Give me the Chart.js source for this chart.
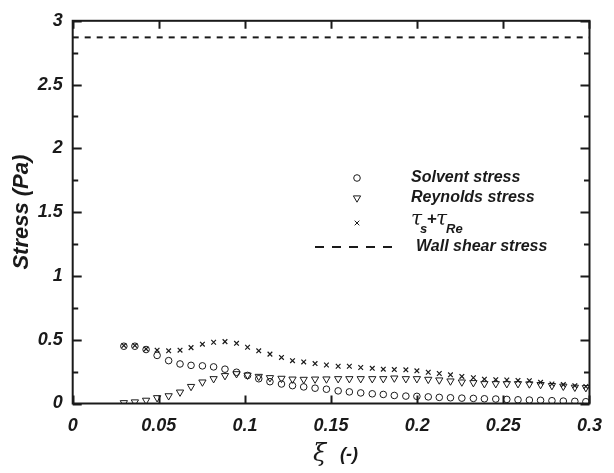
<!DOCTYPE html>
<html>
<head>
<meta charset="utf-8">
<script src="https://cdn.jsdelivr.net/npm/chart.js@4/dist/chart.umd.min.js"></script>
<style>
  html, body { margin: 0; padding: 0; background: #fff; }
  #wrap { width: 614px; height: 473px; }
</style>
</head>
<body>
<div id="wrap"><canvas id="c" width="614" height="473"></canvas></div>
<script>
// ---- data ----
const xi = [0.0297, 0.0361, 0.0426, 0.0490, 0.0557, 0.0623, 0.0687, 0.0753, 0.0818, 0.0884,
            0.0951, 0.1015, 0.1080, 0.1145, 0.1212, 0.1276, 0.1341, 0.1407, 0.1473, 0.1541,
            0.1606, 0.1672, 0.1739, 0.1803, 0.1867, 0.1934, 0.1998, 0.2064, 0.2128, 0.2193,
            0.2259, 0.2326, 0.2390, 0.2456, 0.2520, 0.2585, 0.2651, 0.2716, 0.2782, 0.2848,
            0.2915, 0.2979];
const solventStress = [0.449, 0.449, 0.423, 0.377, 0.336, 0.310, 0.299, 0.295, 0.287, 0.269,
                       0.245, 0.220, 0.194, 0.171, 0.153, 0.140, 0.130, 0.120, 0.112, 0.099,
                       0.091, 0.083, 0.076, 0.071, 0.063, 0.058, 0.056, 0.052, 0.048, 0.045,
                       0.042, 0.040, 0.037, 0.035, 0.032, 0.029, 0.027, 0.025, 0.022, 0.019,
                       0.017, 0.014];
const reynoldsStress = [0.006, 0.012, 0.025, 0.045, 0.060, 0.089, 0.133, 0.168, 0.194, 0.218,
                        0.233, 0.222, 0.212, 0.202, 0.197, 0.191, 0.189, 0.191, 0.192, 0.194,
                        0.194, 0.194, 0.194, 0.194, 0.199, 0.194, 0.194, 0.189, 0.184, 0.176,
                        0.168, 0.163, 0.155, 0.155, 0.155, 0.155, 0.153, 0.148, 0.140, 0.135,
                        0.127, 0.124];
const totalStress = [0.454, 0.454, 0.428, 0.418, 0.413, 0.418, 0.438, 0.465, 0.480, 0.485,
                     0.472, 0.441, 0.413, 0.387, 0.361, 0.336, 0.326, 0.313, 0.302, 0.292,
                     0.292, 0.282, 0.276, 0.269, 0.266, 0.264, 0.256, 0.245, 0.235, 0.225,
                     0.212, 0.202, 0.191, 0.187, 0.184, 0.181, 0.179, 0.166, 0.153, 0.148,
                     0.140, 0.133];
const wallShearStress = 2.87;
const wallRange = [0, 0.3];
const xTicks = [0, 0.05, 0.1, 0.15, 0.2, 0.25, 0.3];
const yTicks = [0, 0.5, 1, 1.5, 2, 2.5, 3];
const yMinorTicks = [0.25, 0.75, 1.25, 1.75, 2.25, 2.75];
const labels = ['Solvent stress', 'Reynolds stress', 'Wall shear stress'];

const pts = ys => xi.map((x, i) => ({ x: x, y: ys[i] }));
const INK = '#1a1a1a';
const FONT = '"Liberation Sans", Arial, sans-serif';
const GREEK = 'italic 20px "DejaVu Serif", "Liberation Serif", serif';

function mark(ctx, style, rotation, radius, x, y) {
  ctx.save();
  ctx.strokeStyle = INK;
  ctx.fillStyle = 'rgba(0,0,0,0)';
  ctx.lineWidth = 1;
  if (Chart.helpers && Chart.helpers.drawPoint) {
    Chart.helpers.drawPoint(ctx, { pointStyle: style, rotation: rotation, radius: radius, borderWidth: 1 }, x, y);
  }
  ctx.restore();
}

const framePlugin = {
  id: 'frameTicks',
  afterDraw(chart) {
    const ctx = chart.ctx;
    const a = chart.chartArea;
    const xs = chart.scales.x, ys = chart.scales.y;
    ctx.save();
    ctx.strokeStyle = INK;
    ctx.lineWidth = 2;
    ctx.strokeRect(a.left, a.top, a.right - a.left, a.bottom - a.top);
    ctx.beginPath();
    yTicks.forEach(v => {
      const p = Math.round(ys.getPixelForValue(v)) + 0.5;
      ctx.moveTo(a.left, p); ctx.lineTo(a.left + 9, p);
      ctx.moveTo(a.right, p); ctx.lineTo(a.right - 9, p);
    });
    yMinorTicks.forEach(v => {
      const p = Math.round(ys.getPixelForValue(v)) + 0.5;
      ctx.moveTo(a.left, p); ctx.lineTo(a.left + 5.5, p);
      ctx.moveTo(a.right, p); ctx.lineTo(a.right - 5.5, p);
    });
    xTicks.forEach(v => {
      const p = Math.round(xs.getPixelForValue(v)) + 0.5;
      ctx.moveTo(p, a.bottom); ctx.lineTo(p, a.bottom - 8);
      ctx.moveTo(p, a.top); ctx.lineTo(p, a.top + 8);
    });
    ctx.stroke();

    // x axis title: xi (-)
    ctx.fillStyle = INK;
    ctx.textBaseline = 'middle';
    ctx.textAlign = 'left';
    ctx.font = 'italic 24px "DejaVu Serif", "Liberation Serif", serif';
    ctx.fillText('\u03BE', 313, 455);
    ctx.font = 'bold italic 18px ' + FONT;
    ctx.fillText('(-)', 340, 455);

    // legend
    const mx = 357, tx = 411;
    const rows = [178, 198, 223, 247];
    mark(ctx, 'circle', 0, 3.3, mx, rows[0]);
    mark(ctx, 'triangle', 180, 4.2, mx, rows[1]);
    mark(ctx, 'crossRot', 0, 3.3, mx, rows[2]);
    ctx.font = 'bold italic 16px ' + FONT;
    ctx.fillStyle = INK;
    ctx.fillText(labels[0], tx, rows[0]);
    ctx.fillText(labels[1], tx, rows[1]);
    // tau_s + tau_Re
    ctx.font = GREEK;
    ctx.fillText('\u03C4', tx, rows[2] - 3);
    ctx.font = 'bold italic 13px ' + FONT;
    ctx.fillText('s', tx + 9, rows[2] + 6);
    ctx.font = 'bold 17px ' + FONT;
    ctx.fillText('+', tx + 16, rows[2] - 4);
    ctx.font = GREEK;
    ctx.fillText('\u03C4', tx + 25, rows[2] - 3);
    ctx.font = 'bold italic 13px ' + FONT;
    ctx.fillText('Re', tx + 35, rows[2] + 6);
    // wall shear legend line
    ctx.lineWidth = 2;
    ctx.setLineDash([9, 8]);
    ctx.beginPath();
    ctx.moveTo(315, rows[3]); ctx.lineTo(398, rows[3]);
    ctx.stroke();
    ctx.setLineDash([]);
    ctx.font = 'bold italic 16px ' + FONT;
    ctx.fillText(labels[2], tx + 5, rows[3]);
    ctx.restore();
  }
};

const tickFont = { family: FONT, size: 18, weight: 'bold', style: 'italic' };
const fmt = v => String(Number(Number(v).toFixed(2)));

new Chart(document.getElementById('c'), {
  type: 'scatter',
  data: {
    datasets: [
      { label: labels[0], data: pts(solventStress), pointStyle: 'circle', pointRadius: 3.3,
        borderColor: INK, backgroundColor: 'rgba(0,0,0,0)', borderWidth: 1, pointHoverRadius: 3.3 },
      { label: labels[1], data: pts(reynoldsStress), pointStyle: 'triangle', rotation: 180, pointRadius: 4.2,
        borderColor: INK, backgroundColor: 'rgba(0,0,0,0)', borderWidth: 1, pointHoverRadius: 4.2 },
      { label: 'τs+τRe', data: pts(totalStress), pointStyle: 'crossRot', pointRadius: 3.3,
        borderColor: INK, backgroundColor: 'rgba(0,0,0,0)', borderWidth: 1.2, pointHoverRadius: 3.3 },
      { type: 'line', label: labels[2],
        data: wallRange.map(x => ({ x: x, y: wallShearStress })),
        borderColor: INK, borderWidth: 2, borderDash: [6, 6], pointRadius: 0, fill: false }
    ]
  },
  options: {
    responsive: false,
    animation: false,
    events: [],
    layout: { padding: { top: 14.7, right: 14, left: 0, bottom: 0 } },
    plugins: { legend: { display: false }, tooltip: { enabled: false } },
    scales: {
      x: {
        type: 'linear', min: 0, max: 0.3,
        afterFit: s => { s.height = 69.5; },
        afterBuildTicks: s => { s.ticks = xTicks.map(v => ({ value: v })); },
        grid: { display: false, drawTicks: false },
        border: { display: false },
        ticks: { color: INK, font: tickFont, padding: 12, maxRotation: 0, autoSkip: false, callback: fmt }
      },
      y: {
        type: 'linear', min: 0, max: 3,
        afterFit: s => { s.width = 72.7; },
        afterBuildTicks: s => { s.ticks = yTicks.map(v => ({ value: v })); },
        grid: { display: false, drawTicks: false },
        border: { display: false },
        ticks: { color: INK, font: tickFont, padding: 10, autoSkip: false, callback: fmt },
        title: { display: true, text: 'Stress (Pa)', color: INK,
                 font: { family: FONT, size: 22, weight: 'bold', style: 'italic' },
                 padding: { top: 9, bottom: 0 } }
      }
    }
  },
  plugins: [framePlugin]
});
</script>
</body>
</html>
